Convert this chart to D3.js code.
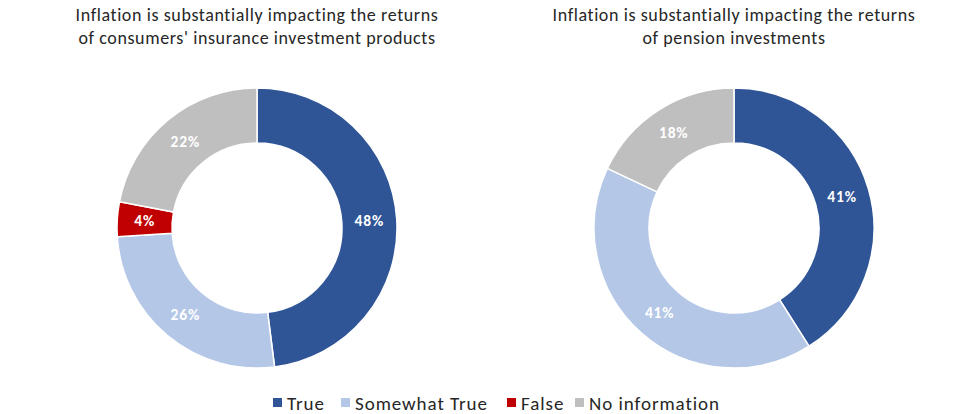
<!DOCTYPE html>
<html>
<head>
<meta charset="utf-8">
<script src="https://cdn.jsdelivr.net/npm/d3@7"></script>
<style>
  body { margin: 0; background: #fff; }
  svg text { font-family: Carlito, "Open Sans", "Noto Sans", sans-serif; }
</style>
</head>
<body>
<div id="chart"></div>
<script>
const categories = ["True", "Somewhat True", "False", "No information"];
const colors = ["#2F5597", "#B4C7E7", "#C00000", "#BFBFBF"];
const insuranceValues = [48, 26, 4, 22];
const pensionValues = [41, 41, 0, 18];
const titles = [
  ["Inflation is substantially impacting the returns", "of consumers' insurance investment products"],
  ["Inflation is substantially impacting the returns", "of pension investments"]
];

const width = 971, height = 414;
const svg = d3.select("#chart").append("svg")
  .attr("width", width)
  .attr("height", height);

const outerR = 140, innerR = 85;
const color = d3.scaleOrdinal().domain(categories).range(colors);
const pie = d3.pie().sort(null).value(d => d.value);
const arc = d3.arc().innerRadius(innerR).outerRadius(outerR);

const charts = [
  { cx: 257, values: insuranceValues, title: titles[0] },
  { cx: 734, values: pensionValues, title: titles[1] }
];

charts.forEach(c => {
  const data = categories.map((k, i) => ({ key: k, value: c.values[i] }));

  const t = svg.append("text")
    .attr("x", c.cx)
    .attr("y", 21)
    .attr("text-anchor", "middle")
    .attr("font-size", 18)
    .attr("letter-spacing", 0.6)
    .attr("fill", "#262626");
  c.title.forEach((line, i) => {
    t.append("tspan").attr("x", c.cx).attr("dy", i === 0 ? 0 : 23).text(line);
  });

  const g = svg.append("g").attr("transform", `translate(${c.cx},228)`);
  const arcs = pie(data).filter(d => d.data.value > 0);

  g.selectAll("path")
    .data(arcs)
    .enter()
    .append("path")
    .attr("d", arc)
    .attr("fill", d => color(d.data.key))
    .attr("stroke", "#fff")
    .attr("stroke-width", 1.5);

  g.selectAll("text.lbl")
    .data(arcs)
    .enter()
    .append("text")
    .attr("class", "lbl")
    .attr("transform", d => "translate(" + arc.centroid(d) + ")")
    .attr("text-anchor", "middle")
    .attr("dy", "0.35em")
    .attr("font-size", 15.5)
    .attr("letter-spacing", 0.8)
    .attr("font-weight", "bold")
    .attr("fill", "#fff")
    .text(d => d.data.value + "%");
});

// legend
const legend = svg.append("g").attr("transform", "translate(0,403)");
const legendX = [273, 341, 507, 575];
categories.forEach((k, i) => {
  const item = legend.append("g").attr("transform", `translate(${legendX[i]},0)`);
  item.append("rect")
    .attr("x", 0).attr("y", -5)
    .attr("width", 9).attr("height", 9)
    .attr("fill", color(k));
  item.append("text")
    .attr("x", 14)
    .attr("dy", "0.35em")
    .attr("font-size", 19)
    .attr("letter-spacing", 0.95)
    .attr("fill", "#262626")
    .text(k);
});
</script>
</body>
</html>
